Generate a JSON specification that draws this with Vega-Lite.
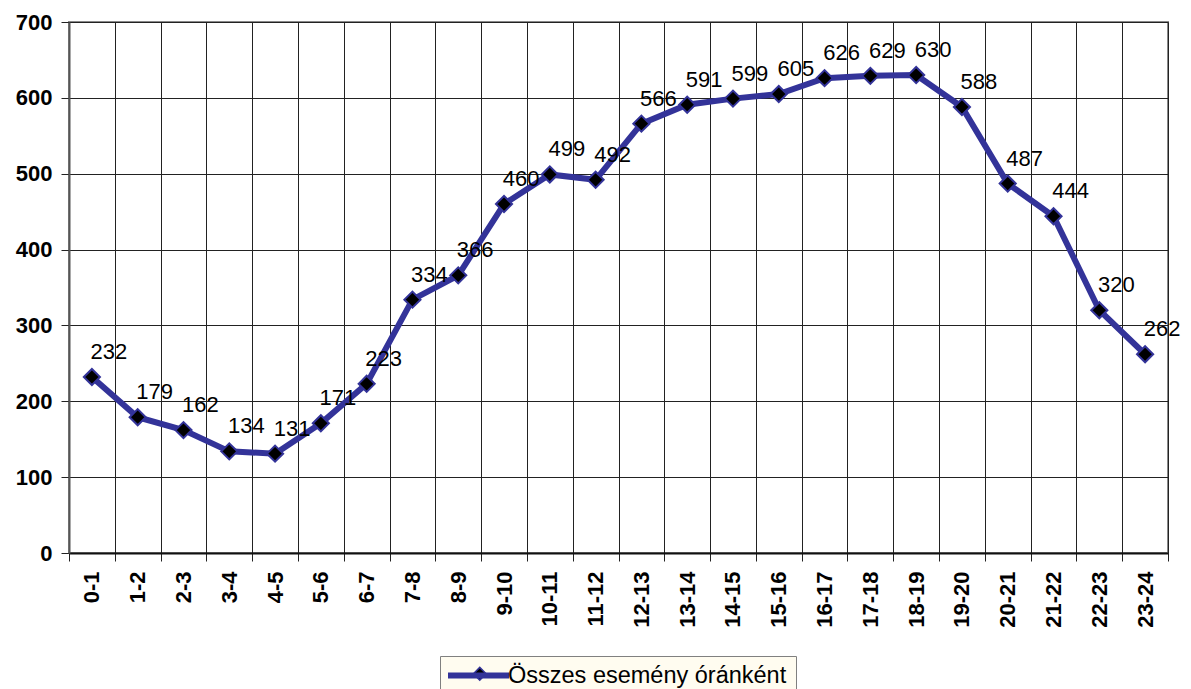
{
  "$schema": "https://vega.github.io/schema/vega-lite/v6.json",
  "width": 1099,
  "height": 531,
  "autosize": "none",
  "padding": {"left": 69, "top": 22, "right": 23, "bottom": 136},
  "background": "white",
  "config": {"font": "Liberation Sans", "view": {"stroke": "#888888", "strokeWidth": 2}},
  "data": {"values": [
    {"ora": "0-1", "db": 232, "sorozat": "Összes esemény óránként"},
    {"ora": "1-2", "db": 179, "sorozat": "Összes esemény óránként"},
    {"ora": "2-3", "db": 162, "sorozat": "Összes esemény óránként"},
    {"ora": "3-4", "db": 134, "sorozat": "Összes esemény óránként"},
    {"ora": "4-5", "db": 131, "sorozat": "Összes esemény óránként"},
    {"ora": "5-6", "db": 171, "sorozat": "Összes esemény óránként"},
    {"ora": "6-7", "db": 223, "sorozat": "Összes esemény óránként"},
    {"ora": "7-8", "db": 334, "sorozat": "Összes esemény óránként"},
    {"ora": "8-9", "db": 366, "sorozat": "Összes esemény óránként"},
    {"ora": "9-10", "db": 460, "sorozat": "Összes esemény óránként"},
    {"ora": "10-11", "db": 499, "sorozat": "Összes esemény óránként"},
    {"ora": "11-12", "db": 492, "sorozat": "Összes esemény óránként"},
    {"ora": "12-13", "db": 566, "sorozat": "Összes esemény óránként"},
    {"ora": "13-14", "db": 591, "sorozat": "Összes esemény óránként"},
    {"ora": "14-15", "db": 599, "sorozat": "Összes esemény óránként"},
    {"ora": "15-16", "db": 605, "sorozat": "Összes esemény óránként"},
    {"ora": "16-17", "db": 626, "sorozat": "Összes esemény óránként"},
    {"ora": "17-18", "db": 629, "sorozat": "Összes esemény óránként"},
    {"ora": "18-19", "db": 630, "sorozat": "Összes esemény óránként"},
    {"ora": "19-20", "db": 588, "sorozat": "Összes esemény óránként"},
    {"ora": "20-21", "db": 487, "sorozat": "Összes esemény óránként"},
    {"ora": "21-22", "db": 444, "sorozat": "Összes esemény óránként"},
    {"ora": "22-23", "db": 320, "sorozat": "Összes esemény óránként"},
    {"ora": "23-24", "db": 262, "sorozat": "Összes esemény óránként"}
  ]},
  "encoding": {
    "x": {
      "field": "ora", "type": "nominal", "sort": null,
      "scale": {"type": "band", "paddingInner": 0, "paddingOuter": 0},
      "axis": {
        "title": null, "tickBand": "extent", "labelAngle": -90,
        "labelFontSize": 22, "labelFontWeight": "bold", "labelColor": "black",
        "tickSize": 8, "tickColor": "#222222", "domainColor": "#111111", "domainWidth": 2,
        "grid": true, "gridColor": "#222222", "gridOpacity": 1, "labelPadding": 10
      }
    },
    "y": {
      "field": "db", "type": "quantitative",
      "scale": {"domain": [0, 700], "nice": false},
      "axis": {
        "title": null, "values": [0, 100, 200, 300, 400, 500, 600, 700],
        "labelFontSize": 22, "labelFontWeight": "bold", "labelColor": "black",
        "tickSize": 8, "tickColor": "#222222", "domainColor": "#555555", "domainWidth": 2,
        "grid": true, "gridColor": "#222222", "gridOpacity": 1, "labelPadding": 9
      }
    }
  },
  "layer": [
    {
      "mark": {"type": "line", "strokeWidth": 6},
      "encoding": {
        "stroke": {
          "field": "sorozat", "type": "nominal",
          "scale": {"range": ["#333399"]},
          "legend": {
            "orient": "none", "legendX": 376, "legendY": 620, "title": null, "zindex": 2,
            "symbolType": "stroke", "symbolSize": 3721, "symbolStrokeWidth": 6,
            "labelFontSize": 23.5, "labelColor": "black", "labelLimit": 600, "labelOffset": -4,
            "padding": 0
          }
        }
      }
    },
    {
      "mark": {"type": "point", "filled": true, "fill": "black", "stroke": "#333399", "strokeWidth": 2, "size": 260, "opacity": 1},
      "encoding": {
        "shape": {
          "field": "sorozat", "type": "nominal",
          "scale": {"domain": ["Összes esemény óránként"], "range": ["diamond"]},
          "legend": {
            "orient": "none", "legendX": 371, "legendY": 634, "title": null, "zindex": 1,
            "symbolSize": 160, "symbolOffset": 22, "labelFontSize": 23.5, "labelOpacity": 0, "labelLimit": 600, "labelOffset": 20,
            "fillColor": "#FFFCF0", "strokeColor": "#808080", "padding": 6
          }
        }
      }
    },
    {
      "mark": {"type": "text", "dx": 17, "dy": -25, "fontSize": 22, "color": "black"},
      "encoding": {"text": {"field": "db", "type": "quantitative"}}
    }
  ]
}
